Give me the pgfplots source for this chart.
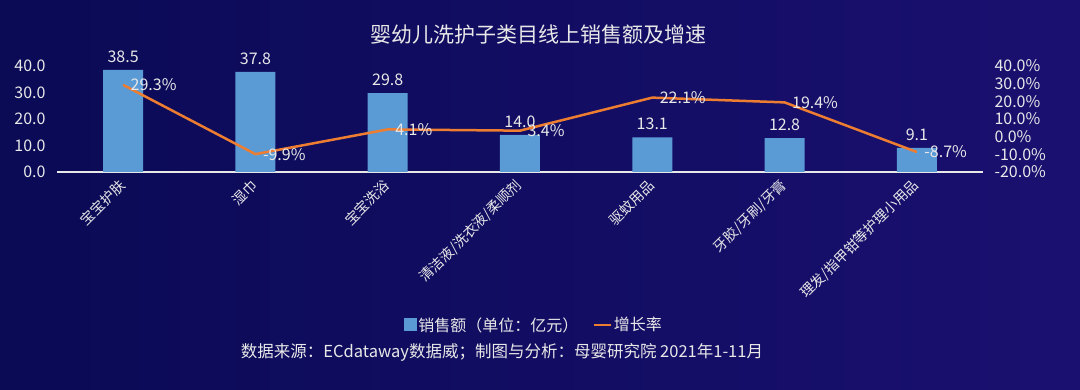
\documentclass[border=0pt]{standalone}
\usepackage{fontspec}
\setmainfont{Noto Sans CJK SC}
\usepackage{pgfplots}
\pgfplotsset{compat=1.18}
\definecolor{bgL}{HTML}{0A0A55}
\definecolor{bgR}{HTML}{1A1070}
\definecolor{barblue}{HTML}{5B9BD5}
\definecolor{lineor}{HTML}{ED7D31}
\definecolor{txt}{HTML}{E8E8E8}
\begin{document}
\begin{tikzpicture}[x=1pt,y=1pt]
\shade[left color=bgL,right color=bgR] (0,0) rectangle (1080,390);
\pgfplotsset{common/.style={scale only axis, width=926pt, height=106pt,
  at={(57pt,218pt)}, anchor=south west, xmin=-0.5, xmax=6.5,
  clip=false,
  /pgf/number format/.cd, fixed, fixed zerofill, precision=1, assume math mode=true}}
\begin{axis}[common, ymin=0, ymax=40, ytick={0,10,20,30,40},
  axis x line*=bottom, axis y line*=left,
  y axis line style={draw=none},
  x axis line style={draw=txt, line width=2pt, -},
  major tick length=0pt,
  xtick={0,1,2,3,4,5,6},
  xticklabels={宝宝护肤,湿巾,宝宝洗浴,清洁液/洗衣液/柔顺剂,驱蚊用品,牙胶/牙刷/牙膏,理发/指甲钳等护理小用品},
  xticklabel shift=10pt,
  xticklabel style={rotate=45, anchor=east, font=\fontsize{14}{16}\selectfont, text=txt, inner sep=1pt},
  yticklabel style={font=\fontsize{16}{18}\selectfont, text=txt, xshift=-8pt},
  ]
\addplot[ybar, bar width=40pt, fill=barblue, draw=none,
  nodes near coords,
  nodes near coords style={font=\fontsize{16}{18}\selectfont, text=txt, yshift=4pt}]
  coordinates {(0,38.5) (1,37.8) (2,29.8) (3,14.0) (4,13.1) (5,12.8) (6,9.1)};
\end{axis}
\begin{axis}[common, ymin=-20, ymax=40, ytick={-20,-10,0,10,20,30,40},
  axis y line*=right, axis x line=none,
  y axis line style={draw=none},
  major tick length=0pt,
  yticklabel={\pgfmathprintnumber[fixed,fixed zerofill,precision=1,assume math mode=true]{\tick}\%},
  yticklabel style={font=\fontsize{16}{18}\selectfont, text=txt, anchor=west, xshift=8pt},
  legend style={at={(0.515,-1.443)}, anchor=center, legend columns=2, draw=none, fill=none,
    text=txt, font=\fontsize{16}{18}\selectfont,
    /tikz/every even column/.append style={column sep=12pt}},
  ]
\addlegendimage{legend image code/.code={\fill[barblue] (0pt,-5pt) rectangle (12pt,7pt);}}
\addplot[lineor, line width=2.5pt, mark=none,
  nodes near coords={\pgfmathprintnumber[fixed,fixed zerofill,precision=1,assume math mode=true]{\pgfplotspointmeta}\%},
  nodes near coords style={anchor=west, font=\fontsize{16}{18}\selectfont, text=txt, xshift=3pt}]
  coordinates {(0,29.3) (1,-9.9) (2,4.1) (3,3.4) (4,22.1) (5,19.4) (6,-8.7)};
\legend{销售额（单位：亿元）,增长率}
\end{axis}
\node[text=txt, font=\fontsize{21}{24}\selectfont] at (538,355) {婴幼儿洗护子类目线上销售额及增速};
\node[text=txt, font=\fontsize{16.5}{19}\selectfont] at (502,38) {数据来源：ECdataway数据威；制图与分析：母婴研究院 2021年1-11月};
\end{tikzpicture}
\end{document}
